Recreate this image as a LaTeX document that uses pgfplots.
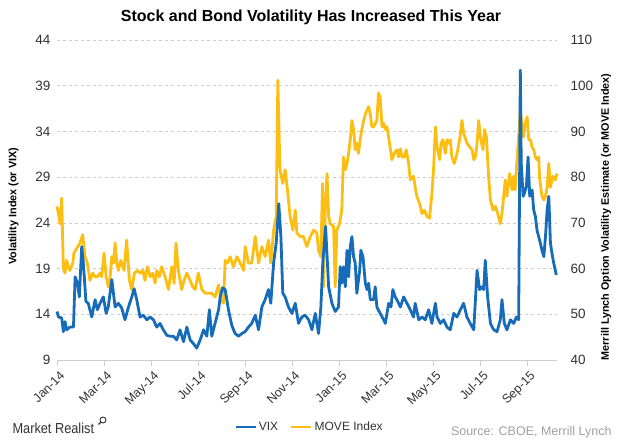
\documentclass[border=0pt]{standalone}
\usepackage{fontspec}
\setmainfont{Liberation Sans}
\usepackage{pgfplots}
\pgfplotsset{compat=1.18}
\definecolor{vixblue}{RGB}{22,108,184}
\definecolor{moveyellow}{RGB}{252,190,18}
\definecolor{gridgray}{RGB}{205,205,205}
\definecolor{labelgray}{RGB}{50,50,50}
\definecolor{srcgray}{RGB}{160,160,160}
\begin{document}
\begin{tikzpicture}[x=1pt,y=1pt]
% right axis: MOVE Index (drawn first, underneath)
\begin{axis}[
  at={(57pt,83pt)}, anchor=south west,
  scale only axis, width=500pt, height=320pt,
  xmin=0, xmax=21.26, ymin=40, ymax=110,
  axis x line*=bottom, axis y line*=right,
  y axis line style={draw=none},
  x axis line style={gridgray, line width=0.8pt, -},
  xtick={0,2,...,20},
  xticklabels={Jan-14,Mar-14,May-14,Jul-14,Sep-14,Nov-14,Jan-15,Mar-15,May-15,Jul-15,Sep-15},
  x tick label style={rotate=45, anchor=north east, font=\fontsize{12.5}{12.5}\selectfont, text=labelgray, xshift=2pt, yshift=-1pt},
  tick align=outside,
  xtick style={gridgray, line width=0.8pt},
  major tick length=6pt,
  ytick={40,50,...,110},
  ytick style={draw=none},
  yticklabel style={font=\fontsize{13.5}{13.5}\selectfont, text=labelgray, xshift=4pt},
  /pgf/number format/assume math mode=true,
  ymajorgrids, grid style={dashed, gridgray, line width=0.7pt},
  ylabel={Merrill Lynch Option Volatility Estimate (or MOVE Index)},
  ylabel style={at={(rel axis cs:1.098,0.447)}, anchor=center, rotate=0, font=\bfseries\fontsize{10.8}{11}\selectfont},
  clip=false,
]
\addplot[moveyellow, line width=2.8pt, line join=round] coordinates {
(0.00,73.6)(0.06,72.0)(0.13,69.8)(0.20,75.4)(0.27,60.0)(0.34,59.0)(0.41,61.8)(0.48,60.4)(0.55,59.6)(0.67,61.2)(0.72,63.4)(0.84,64.4)(0.98,65.6)(1.09,67.4)(1.19,62.6)(1.29,61.2)(1.40,57.4)(1.52,59.0)(1.62,58.2)(1.72,58.2)(1.83,59.0)(1.90,58.2)(2.00,63.4)(2.09,58.2)(2.18,56.0)(2.26,58.2)(2.33,62.6)(2.40,61.2)(2.47,65.6)(2.54,61.2)(2.61,59.6)(2.71,61.8)(2.85,59.6)(2.96,66.2)(3.08,57.4)(3.18,55.4)(3.29,59.0)(3.42,59.6)(3.53,59.0)(3.65,59.6)(3.74,57.4)(3.84,60.4)(3.96,58.2)(4.07,59.0)(4.17,56.8)(4.24,59.6)(4.35,58.2)(4.45,60.4)(4.60,58.2)(4.74,55.4)(4.88,60.4)(4.98,56.8)(5.06,65.6)(5.16,59.6)(5.30,55.4)(5.40,57.4)(5.52,59.0)(5.66,57.4)(5.77,56.0)(5.87,55.4)(6.01,59.0)(6.16,55.4)(6.30,54.6)(6.44,54.6)(6.58,54.6)(6.72,53.8)(6.87,56.4)(6.96,53.2)(7.08,52.4)(7.15,61.8)(7.25,61.2)(7.36,62.6)(7.50,60.4)(7.65,62.6)(7.79,61.2)(7.93,59.6)(8.00,64.8)(8.14,61.2)(8.28,61.2)(8.43,67.0)(8.57,61.2)(8.71,64.8)(8.85,62.6)(8.99,66.2)(9.09,61.2)(9.21,68.4)(9.32,71.4)(9.39,101.2)(9.48,81.6)(9.60,78.6)(9.70,81.6)(9.80,77.2)(9.91,71.4)(10.03,68.4)(10.13,72.8)(10.20,67.8)(10.34,67.0)(10.48,67.0)(10.62,64.8)(10.77,67.0)(10.91,68.4)(11.05,67.8)(11.12,64.0)(11.22,62.6)(11.29,78.6)(11.33,56.0)(11.40,72.0)(11.48,80.8)(11.55,71.4)(11.62,69.8)(11.76,69.2)(11.83,56.0)(11.90,68.4)(12.01,69.8)(12.11,72.8)(12.18,84.4)(12.26,81.6)(12.33,83.0)(12.40,85.2)(12.47,88.2)(12.54,92.4)(12.61,90.4)(12.68,86.0)(12.75,87.4)(12.82,85.2)(12.89,88.2)(12.96,90.4)(13.04,92.4)(13.11,93.8)(13.25,95.4)(13.32,93.8)(13.39,91.0)(13.46,91.0)(13.60,92.4)(13.67,98.4)(13.74,97.6)(13.82,91.0)(13.89,91.8)(13.96,90.4)(14.03,91.0)(14.14,87.4)(14.24,83.8)(14.34,85.2)(14.45,86.0)(14.52,84.4)(14.60,86.2)(14.67,84.4)(14.77,84.4)(14.85,86.0)(14.95,83.0)(15.02,79.4)(15.16,80.2)(15.23,77.8)(15.30,75.8)(15.42,74.2)(15.52,72.0)(15.62,72.8)(15.73,71.4)(15.84,71.0)(15.94,76.4)(16.01,81.6)(16.09,91.0)(16.16,86.6)(16.27,83.8)(16.33,87.4)(16.41,88.2)(16.51,85.2)(16.58,88.2)(16.65,87.4)(16.72,88.2)(16.79,84.4)(16.89,83.0)(17.01,85.2)(17.12,88.2)(17.22,92.4)(17.29,89.6)(17.43,87.4)(17.55,86.6)(17.65,86.0)(17.72,83.8)(17.79,84.4)(17.86,87.4)(17.93,92.4)(18.00,88.8)(18.11,86.0)(18.18,90.4)(18.26,88.8)(18.35,80.2)(18.43,75.0)(18.54,72.8)(18.64,73.6)(18.74,72.0)(18.85,69.8)(18.92,72.0)(19.06,79.4)(19.13,75.8)(19.25,80.8)(19.35,77.2)(19.42,80.2)(19.48,77.2)(19.55,83.0)(19.62,88.2)(19.70,94.6)(19.77,91.8)(19.84,88.8)(19.91,91.8)(19.99,93.2)(20.06,88.2)(20.13,88.2)(20.20,86.6)(20.27,86.0)(20.34,84.4)(20.41,83.8)(20.48,84.4)(20.52,79.8)(20.62,75.8)(20.70,75.0)(20.77,75.8)(20.84,77.8)(20.91,83.0)(20.98,77.8)(21.09,80.2)(21.19,79.4)(21.26,80.8)
};
\end{axis}
% left axis: VIX (drawn on top)
\begin{axis}[
  at={(57pt,83pt)}, anchor=south west,
  scale only axis, width=500pt, height=320pt,
  xmin=0, xmax=21.26, ymin=9, ymax=44,
  axis x line=none, axis y line*=left,
  y axis line style={draw=none},
  ytick={9,14,...,44},
  ytick style={draw=none},
  yticklabel style={font=\fontsize{13.5}{13.5}\selectfont, text=labelgray, xshift=-3pt},
  /pgf/number format/assume math mode=true,
  ylabel={Volatility Index (or VIX)},
  ylabel style={at={(rel axis cs:-0.087,0.48)}, anchor=center, rotate=0, font=\bfseries\fontsize{10.8}{11}\selectfont},
  title={Stock and Bond Volatility Has Increased This Year},
  title style={at={(rel axis cs:0.508,1.053)}, anchor=center, font=\bfseries\fontsize{16}{16}\selectfont},
  legend style={at={(rel axis cs:0.505,-0.21)}, anchor=center, draw=none, fill=none, legend columns=2,
    font=\fontsize{12}{12}\selectfont, text=labelgray,
    /tikz/every even column/.append style={column sep=10pt}},
  legend image code/.code={\draw[#1, line width=2.5pt] (0pt,0pt) -- (20pt,0pt);},
  clip=false,
]
\addplot[vixblue, line width=2.8pt, line join=round] coordinates {
(0.00,14.3)(0.06,13.7)(0.20,13.6)(0.27,12.1)(0.34,13.2)(0.41,12.3)(0.55,12.6)(0.70,12.6)(0.77,18.1)(0.87,17.4)(0.95,15.9)(1.05,21.4)(1.12,19.6)(1.23,15.4)(1.33,15.2)(1.48,13.7)(1.62,15.6)(1.72,14.5)(1.83,15.2)(1.97,15.9)(2.09,14.1)(2.18,14.8)(2.33,17.8)(2.47,14.8)(2.61,15.2)(2.75,14.7)(2.89,13.4)(3.04,14.8)(3.18,15.9)(3.28,16.8)(3.39,15.6)(3.53,13.7)(3.67,13.9)(3.82,13.4)(3.96,13.7)(4.10,13.4)(4.24,12.6)(4.38,13.0)(4.52,12.3)(4.67,11.7)(4.81,11.6)(4.95,11.6)(5.09,11.2)(5.23,12.3)(5.38,11.0)(5.52,12.6)(5.66,11.2)(5.80,10.8)(5.94,10.3)(6.09,11.2)(6.23,12.3)(6.37,11.6)(6.48,14.5)(6.58,11.6)(6.72,13.0)(6.87,14.5)(6.94,15.9)(7.04,16.9)(7.15,16.7)(7.29,14.5)(7.43,12.8)(7.57,11.9)(7.72,11.6)(7.86,11.9)(8.00,12.1)(8.14,12.6)(8.28,13.0)(8.43,13.9)(8.57,12.3)(8.71,14.8)(8.85,15.6)(8.99,16.7)(9.09,15.2)(9.21,19.6)(9.32,21.8)(9.43,26.1)(9.52,22.5)(9.60,16.3)(9.70,15.9)(9.84,14.8)(9.99,14.1)(10.13,15.2)(10.27,13.0)(10.41,13.7)(10.55,13.9)(10.70,13.4)(10.84,12.3)(10.98,14.1)(11.12,11.9)(11.22,14.8)(11.30,19.6)(11.42,23.6)(11.55,17.0)(11.69,15.2)(11.83,14.3)(11.97,14.8)(12.04,19.2)(12.11,17.4)(12.18,19.2)(12.26,17.0)(12.33,21.0)(12.40,18.1)(12.47,21.4)(12.54,22.5)(12.61,20.3)(12.68,19.6)(12.75,16.3)(12.87,18.8)(12.92,21.0)(13.01,20.3)(13.11,17.4)(13.18,16.7)(13.25,17.4)(13.32,15.6)(13.46,15.6)(13.53,17.0)(13.60,14.8)(13.74,14.1)(13.89,13.4)(13.96,13.0)(14.10,15.2)(14.20,14.8)(14.28,16.7)(14.38,15.9)(14.45,15.6)(14.60,14.8)(14.74,15.9)(14.88,15.2)(15.02,14.5)(15.16,13.7)(15.23,15.2)(15.38,13.4)(15.52,13.7)(15.66,13.4)(15.80,14.5)(15.94,13.0)(16.09,15.2)(16.16,13.7)(16.30,13.0)(16.44,13.4)(16.58,12.6)(16.72,12.3)(16.87,14.1)(17.01,13.7)(17.15,14.5)(17.29,15.2)(17.43,13.7)(17.57,13.0)(17.72,12.3)(17.86,18.8)(17.97,16.7)(18.07,17.0)(18.14,16.7)(18.21,19.9)(18.31,15.9)(18.43,13.0)(18.57,12.3)(18.71,12.1)(18.85,13.4)(18.92,15.6)(19.02,13.0)(19.13,12.3)(19.28,13.4)(19.42,13.0)(19.53,13.7)(19.63,13.4)(19.70,40.7)(19.74,30.5)(19.82,26.9)(19.87,27.2)(19.96,28.0)(20.03,31.2)(20.10,26.9)(20.20,27.6)(20.27,25.4)(20.34,24.7)(20.41,23.2)(20.48,22.5)(20.55,21.8)(20.62,21.0)(20.70,20.3)(20.77,22.5)(20.84,25.4)(20.91,26.9)(20.98,21.8)(21.05,20.6)(21.12,19.6)(21.23,18.3)
};
\addlegendentry{VIX}
\addlegendimage{moveyellow}
\addlegendentry{MOVE Index}
\end{axis}
\node[anchor=west, text=labelgray, font=\fontsize{14.5}{15}\selectfont] at (9pt,15pt) {\scalebox{0.88}[1]{Market Realist}};
\draw[labelgray, line width=0.9pt] (103pt,23pt) circle (3pt);
\draw[labelgray, line width=1.1pt] (101pt,21pt) -- (98.5pt,18.5pt);
\node[anchor=east, text=srcgray, font=\fontsize{12.5}{13}\selectfont] at (615pt,11pt) {Source: CBOE, Merrill Lynch};
\pgfresetboundingbox
\useasboundingbox (0,0) rectangle (620pt,443pt);
\end{tikzpicture}
\end{document}
